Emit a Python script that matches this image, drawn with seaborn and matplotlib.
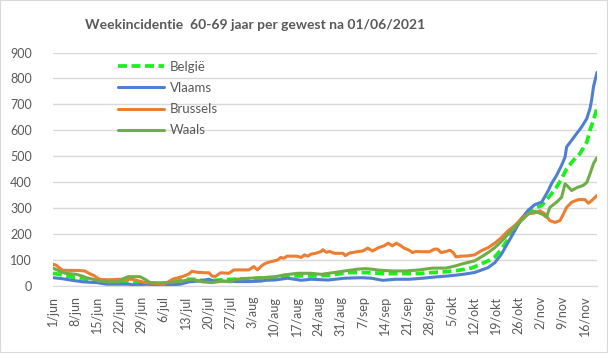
import matplotlib
matplotlib.use("Agg")
import matplotlib.pyplot as plt
import seaborn as sns
from matplotlib.patches import Rectangle

# days since 1/jun and values
belgie_days = [0, 2, 4, 7.4, 10.6, 13.8, 17.5, 21.2, 23.3, 26.5, 29.6, 32.8, 36.6, 40.8, 43, 45.6,
               48.2, 52.5, 56.7, 63, 66.7, 70, 74.2, 78.5, 82.7, 86.9, 91.2, 94.3, 98.6, 105.2,
               109.4, 115.8, 120, 124.3, 128.5, 132.2, 133.3, 137.6, 139.7, 141.8, 143.9, 146,
               148.1, 150.3, 152.4, 154.5, 157.6, 159.2, 160.8, 162.4, 164.5, 166.6, 168.8,
               169.8, 170.9, 172]
belgie = [49, 45, 39, 32, 26, 19, 16, 17, 19, 13, 10, 10, 10, 23, 26, 25,
          19, 23, 26, 28, 32, 33, 39, 39, 39, 41, 48, 52, 52, 48,
          48, 48, 52, 55, 61, 69, 74, 97, 112, 142, 181, 220,
          259, 284, 301, 310, 355, 381, 413, 452, 484, 510, 555,
          601, 640, 686]

vlaams_days = [0, 3, 6, 9.5, 13.8, 17, 20, 24, 25.4, 29.6, 32.5, 36.6, 40.3, 43, 46, 49.3, 50.9,
               53.5, 57.8, 62, 65.8, 67.3, 70, 74.2, 78.5, 81.6, 86.9, 92.2, 97.5, 100.7, 104.2,
               108.4, 112.6, 116.9, 121.1, 125.3, 129.6, 133.3, 137.6, 139.7, 141.8, 143.9, 146,
               148.1, 150.3, 152.4, 154.5, 156.6, 157.6, 159.2, 160.8, 161.9, 162.4, 164, 165.6,
               167.2, 168.8, 169.8, 170.3, 170.9, 172]
vlaams = [32, 28, 22, 16, 13, 7, 7, 7, 4, 7, 5, 4, 7, 16, 19, 26, 19,
          19, 17, 17, 19, 22, 23, 30, 22, 26, 23, 30, 32, 30, 22,
          26, 26, 30, 35, 39, 45, 52, 71, 90, 123, 168, 213,
          259, 293, 314, 323, 368, 394, 426, 465, 497, 536, 562, 588,
          614, 646, 685, 717, 769, 823]

brussels_days = [0, 1, 3, 5, 8, 10, 12, 13, 14, 15, 18, 21, 25, 27, 29, 32, 35, 36.6, 38, 39.7,
                 41.3, 42.9, 44, 45.6, 48, 49.3, 50.3, 51.4, 53, 55.6, 57.2, 61.9, 63.5, 64.6,
                 66.2, 67.3, 69, 71, 72, 73, 74, 77, 78.5, 79.5, 80.6, 81.6, 83, 84.8, 85.3,
                 86.4, 87.5, 89, 91.7, 92.4, 93.8, 96.5, 98, 99.5, 101, 103, 104.7, 106, 107.3,
                 108.6, 110, 111, 112.6, 113.7, 114.7, 117, 119, 120.6, 121.6, 122.7, 124.3,
                 125.5, 126.6, 127.4, 129, 131, 133.3, 135.4, 137.6, 139.7, 141.8, 143.9, 146,
                 148.1, 150.3, 152.4, 154, 155.5, 157.1, 158.7, 160.3, 161.4, 162.4, 164, 166.1,
                 168.2, 169.3, 170.3, 172]
brussels = [84, 80, 61, 60, 60, 58, 45, 40, 31, 25, 24, 26, 26, 20, 14, 10, 7, 17, 27, 32,
            38, 46, 57, 53, 51, 51, 38, 37, 51, 49, 62, 62, 75, 62,
            80, 88, 94, 100, 110, 107, 115, 115, 110, 120, 115, 123, 126, 133, 140,
            130, 133, 126, 126, 117, 127, 133, 135, 146, 135, 148, 155, 165, 155,
            165, 155, 146, 138, 129, 133, 132, 132, 142, 142, 129, 133,
            138, 128, 112, 115, 116, 120, 136, 148, 165, 187, 213, 233,
            259, 278, 282, 290, 278, 252, 245, 252, 278, 303, 323, 333,
            333, 319, 329, 349]

waals_days = [0, 2, 4, 7.4, 9, 10.6, 12.7, 14.8, 17.5, 21, 22.2, 23.8, 27.5, 29.1, 30.7, 34,
              36.6, 40.8, 44, 47.2, 50.3, 53.5, 56.2, 57.8, 62, 66, 70, 73.2, 77.4, 81.6, 84.8,
              89, 92.2, 96.5, 98.6, 100.7, 103.1, 107.3, 111.6, 115.8, 120, 124.3, 127.4, 129,
              133.3, 135.4, 137.6, 139.7, 141.8, 143.9, 146, 148.1, 150.3, 152.4, 154, 155, 156,
              157.1, 159.2, 160.8, 161.9, 163, 164, 165.6, 167.7, 168.8, 169.8, 170.9, 172]
waals = [69, 58, 49, 45, 39, 32, 26, 19, 16, 16, 28, 36, 36, 26, 13, 12,
         13, 19, 26, 16, 13, 19, 16, 26, 30, 32, 35, 43, 49, 49, 45,
         52, 58, 65, 67, 65, 61, 58, 58, 62, 69, 69, 78, 84,
         97, 112, 129, 148, 172, 200, 226, 252, 278, 288, 280, 275, 265,
         303, 323, 342, 394, 381, 368, 379, 388, 400, 433, 472, 495]

tick_days = list(range(0, 169, 7))
tick_labels = ["1/jun", "8/jun", "15/jun", "22/jun", "29/jun", "6/jul", "13/jul", "20/jul",
               "27/jul", "3/aug", "10/aug", "17/aug", "24/aug", "31/aug", "7/sep", "14/sep",
               "21/sep", "28/sep", "5/okt", "12/okt", "19/okt", "26/okt", "2/nov", "9/nov",
               "16/nov"]

sns.set_style("white")
plt.rcParams['font.family'] = ['Lato', 'DejaVu Sans']
txt = '#595959'

fig = plt.figure(figsize=(6.08, 3.53), dpi=100)
ax = fig.add_axes([53 / 608, 1 - 286 / 353, 544 / 608, 233.5 / 353])

sns.lineplot(x=belgie_days, y=belgie, ax=ax, color='#1af01a', lw=2.7,
             linestyle=(0, (2.4, 1.2)), label='België')
sns.lineplot(x=vlaams_days, y=vlaams, ax=ax, color='#4f7fd0', lw=2.2, label='Vlaams')
sns.lineplot(x=brussels_days, y=brussels, ax=ax, color='#ED7D31', lw=2.2, label='Brussels')
sns.lineplot(x=waals_days, y=waals, ax=ax, color='#70AD47', lw=2.2, label='Waals')

ax.set_xlim(0, 172)
ax.set_ylim(0, 900)
ax.set_yticks(range(0, 901, 100))
ax.yaxis.grid(True, color='#d9d9d9', lw=1)
ax.set_axisbelow(True)
for s in ['top', 'right', 'left']:
    ax.spines[s].set_visible(False)
ax.spines['bottom'].set_color('#d9d9d9')
ax.set_xticks(tick_days)
ax.set_xticklabels(tick_labels, rotation=90, color=txt, fontsize=9)
ax.tick_params(axis='x', length=5, color='#d9d9d9', pad=2)
ax.tick_params(axis='y', length=0, pad=15, labelsize=9, labelcolor=txt)
ax.set_xlabel('')
ax.set_ylabel('')

leg = ax.legend(loc='upper left', bbox_to_anchor=(0.12, 0.965), frameon=False,
                handlelength=3.5, handletextpad=0.4, labelspacing=0.7,
                borderpad=0, borderaxespad=0, fontsize=9.5)
for t in leg.get_texts():
    t.set_color(txt)

fig.text(255 / 608, 1 - 25 / 353, 'Weekincidentie  60-69 jaar per gewest na 01/06/2021',
         ha='center', va='center', fontsize=10, fontweight='bold', color=txt)
fig.patches.append(Rectangle((0, 0), 1, 1, transform=fig.transFigure, fill=False,
                             edgecolor='#d9d9d9', lw=1.5))

fig.savefig('out.png', dpi=100)
